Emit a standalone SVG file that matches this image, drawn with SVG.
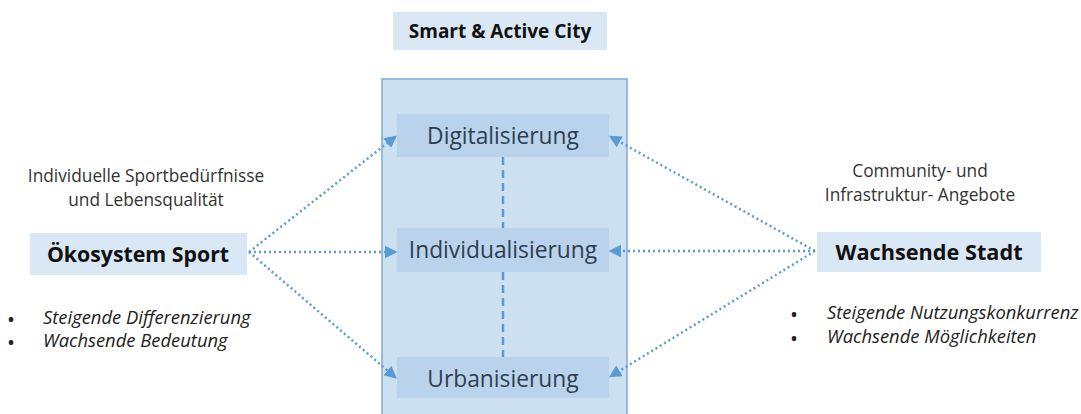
<svg xmlns="http://www.w3.org/2000/svg" width="1081" height="414" viewBox="0 0 1081 414">
<defs>
<style>
text{font-family:"Open Sans","Liberation Sans",sans-serif;}
.lbl{fill:#333;font-size:17.3px;}
.bold{fill:#111;font-weight:bold;}
.box{fill:#dae7f4;}
.inner{fill:#b9d3ec;}
.it{font-style:italic;fill:#222;font-size:18.4px;}
.bul{fill:#222;font-size:16px;font-weight:bold;}
.con{stroke:#5b9bd5;stroke-width:2.5;stroke-dasharray:2 3;fill:none;marker-end:url(#ah);}
.vd{stroke:#5b9bd5;stroke-width:2.5;stroke-dasharray:8 5;fill:none;}
.nt{fill:#2f3f50;font-size:22.8px;}
</style>
<marker id="ah" viewBox="0 0 10 10" refX="8" refY="5" markerWidth="5" markerHeight="5" orient="auto">
<path d="M0,0 L10,5 L0,10 z" fill="#5b9bd5"/>
</marker>
</defs>
<rect width="1081" height="414" fill="#fff"/>
<g id="title">
<rect class="box" x="393" y="12" width="214" height="38"/>
<text class="bold" x="500" y="38" font-size="19" text-anchor="middle">Smart &amp; Active City</text>
</g>
<g id="container">
<rect x="382" y="79" width="245" height="345" fill="#cde0f2" stroke="#7ea9d6" stroke-width="1.5"/>
</g>
<g id="connectors">
<line class="vd" x1="503" y1="157" x2="503" y2="228"/>
<line class="vd" x1="503" y1="272" x2="503" y2="357"/>
<path class="con" d="M249,252 L395,137"/>
<path class="con" d="M249,252 L395,252"/>
<path class="con" d="M249,252 L395,377"/>
<path class="con" d="M815,251 L611,137"/>
<path class="con" d="M815,251 L611,251"/>
<path class="con" d="M815,251 L611,376"/>
</g>
<g id="digitalisierung">
<rect class="inner" x="397" y="114" width="212" height="43"/>
<text class="nt" x="503" y="144" text-anchor="middle">Digitalisierung</text>
</g>
<g id="individualisierung">
<rect class="inner" x="397" y="228" width="212" height="44"/>
<text class="nt" x="503" y="258" text-anchor="middle">Individualisierung</text>
</g>
<g id="urbanisierung">
<rect class="inner" x="397" y="357" width="212" height="41"/>
<text class="nt" x="503" y="387" text-anchor="middle">Urbanisierung</text>
</g>
<g id="oekosystem">
<text class="lbl" x="146" y="182" text-anchor="middle">Individuelle Sportbedürfnisse</text>
<text class="lbl" x="146" y="206" text-anchor="middle">und Lebensqualität</text>
<rect class="box" x="30" y="233" width="217" height="42"/>
<text class="bold" x="138" y="262" font-size="21.3" text-anchor="middle">Ökosystem Sport</text>
<text class="bul" x="8" y="325">•</text>
<text class="it" x="43" y="324">Steigende Differenzierung</text>
<text class="bul" x="8" y="348">•</text>
<text class="it" x="43" y="347">Wachsende Bedeutung</text>
</g>
<g id="stadt">
<text class="lbl" x="920" y="177" text-anchor="middle">Community- und</text>
<text class="lbl" x="920" y="201" text-anchor="middle">Infrastruktur- Angebote</text>
<rect class="box" x="817" y="232" width="224" height="40"/>
<text class="bold" x="929" y="260" font-size="21.7" text-anchor="middle">Wachsende Stadt</text>
<text class="bul" x="791" y="320">•</text>
<text class="it" x="827" y="319">Steigende Nutzungskonkurrenz</text>
<text class="bul" x="791" y="344">•</text>
<text class="it" x="827" y="343">Wachsende Möglichkeiten</text>
</g>
</svg>
